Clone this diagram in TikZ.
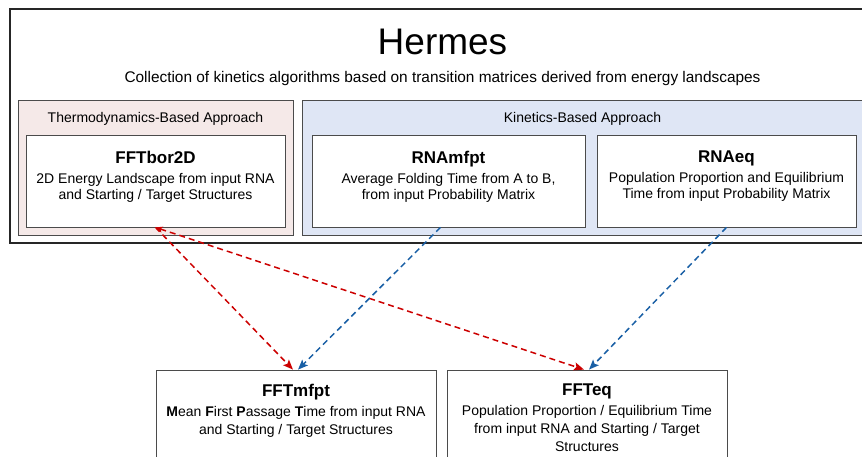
\documentclass[tikz,border=0pt]{standalone}
\usepackage{fontspec}
\setmainfont{Liberation Sans}
\usetikzlibrary{arrows.meta}
\usetikzlibrary{positioning}

\definecolor{thermofill}{RGB}{245,233,232}
\definecolor{kinfill}{RGB}{223,230,245}
\definecolor{thermored}{RGB}{204,0,0}
\definecolor{kinblue}{RGB}{25,95,165}
\definecolor{boxgray}{RGB}{75,75,75}

\tikzset{
  outerbox/.style={draw=black!85, line width=2pt, minimum width=865pt, minimum height=234pt, inner sep=0pt},
  groupbox/.style={draw=boxgray, line width=0.8pt, minimum height=135pt, inner sep=0pt},
  appbox/.style={draw=boxgray, fill=white, line width=0.8pt, inner sep=0pt},
  hermestitle/.style={anchor=north, inner sep=0pt, font=\fontsize{37}{40}\selectfont},
  plaintext/.style={anchor=north, inner sep=0pt, font=\fontsize{14}{16}\selectfont},
  subtext/.style={anchor=north, inner sep=0pt, font=\fontsize{15.4}{18}\selectfont},
  apptext/.style={anchor=north, inner sep=0pt, align=center, font=\fontsize{14}{16}\selectfont},
  lowtext/.style={apptext, font=\fontsize{14}{18}\selectfont},
  thermolink/.style={draw=thermored, line width=1.5pt, dash pattern=on 6pt off 4pt},
  kinlink/.style={draw=kinblue, line width=1.5pt, dash pattern=on 6pt off 4pt,
    -{Stealth[length=10pt,width=8pt,inset=2pt]}}
}
\newcommand{\apphead}[1]{{\fontsize{17}{20}\selectfont\bfseries #1}}

\begin{document}
\begin{tikzpicture}[x=1pt,y=-1pt]
\useasboundingbox (0,0) rectangle (862,457);
\clip (0,0) rectangle (862,457);
% cadre principal
\node[outerbox] (hermes) at (442.5,126) {};
\node[hermestitle] (title) at ([yshift=-21pt]hermes.north) {Hermes};
\node[subtext] (subtitle) at ([yshift=-63pt]hermes.north) {Collection of kinetics algorithms based on transition matrices derived from energy landscapes};
% approches
\node[groupbox, fill=thermofill, minimum width=275pt] (thermo) at (155.5,167.5) {};
\node[plaintext] (thermolabel) at ([yshift=-13pt]thermo.north) {Thermodynamics-Based Approach};
\node[groupbox, fill=kinfill, minimum width=561pt] (kinetics) at (582.5,167.5) {};
\node[plaintext] (kinlabel) at ([yshift=-13pt]kinetics.north) {Kinetics-Based Approach};
% programmes du haut
\node[appbox, minimum width=259pt, minimum height=92pt] (fftbor) at (155.5,181) {};
\node[apptext] (fftbortext) at ([yshift=-16pt]fftbor.north)
  {\apphead{FFTbor2D}\\[4pt] 2D Energy Landscape from input RNA\\ and Starting / Target Structures};
\node[appbox, minimum width=273pt, minimum height=92pt] (rnamfpt) at (448.5,181) {};
\node[apptext] (rnamfpttext) at ([yshift=-16pt]rnamfpt.north)
  {\apphead{RNAmfpt}\\[4pt] Average Folding Time from A to B,\\ from input Probability Matrix};
\node[appbox, minimum width=259pt, minimum height=92pt] (rnaeq) at (726.5,181) {};
\node[apptext] (rnaeqtext) at ([yshift=-16pt]rnaeq.north)
  {\apphead{RNAeq}\\[4pt] Population Proportion and Equilibrium\\ Time from input Probability Matrix};
% programmes du bas
\node[appbox, minimum width=280pt, minimum height=100pt] (fftmfpt) at (296,420) {};
\node[lowtext] (fftmfpttext) at ([yshift=-14pt]fftmfpt.north)
  {\apphead{FFTmfpt}\\[2pt] \textbf{M}ean \textbf{F}irst \textbf{P}assage \textbf{T}ime from input RNA\\ and Starting / Target Structures};
\node[appbox, minimum width=280pt, minimum height=100pt] (ffteq) at (587,420) {};
\node[lowtext] (ffteqtext) at ([yshift=-14pt]ffteq.north)
  {\apphead{FFTeq}\\[2pt] Population Proportion / Equilibrium Time\\ from input RNA and Starting / Target\\ Structures};
% liens
\draw[thermolink, -{Stealth[length=10pt,width=8pt,inset=2pt]}] (fftbor.south) -- ([xshift=-3pt]fftmfpt.north);
\draw[thermolink, {Stealth[length=7pt,width=6pt,inset=1.5pt]}-{Stealth[length=10pt,width=8pt,inset=2pt]}] (fftbor.south) -- ([xshift=-3pt]ffteq.north);
\draw[kinlink] ([xshift=-8pt]rnamfpt.south) -- ([xshift=2pt]fftmfpt.north);
\draw[kinlink] (rnaeq.south) -- ([xshift=2pt]ffteq.north);
\end{tikzpicture}
\end{document}
